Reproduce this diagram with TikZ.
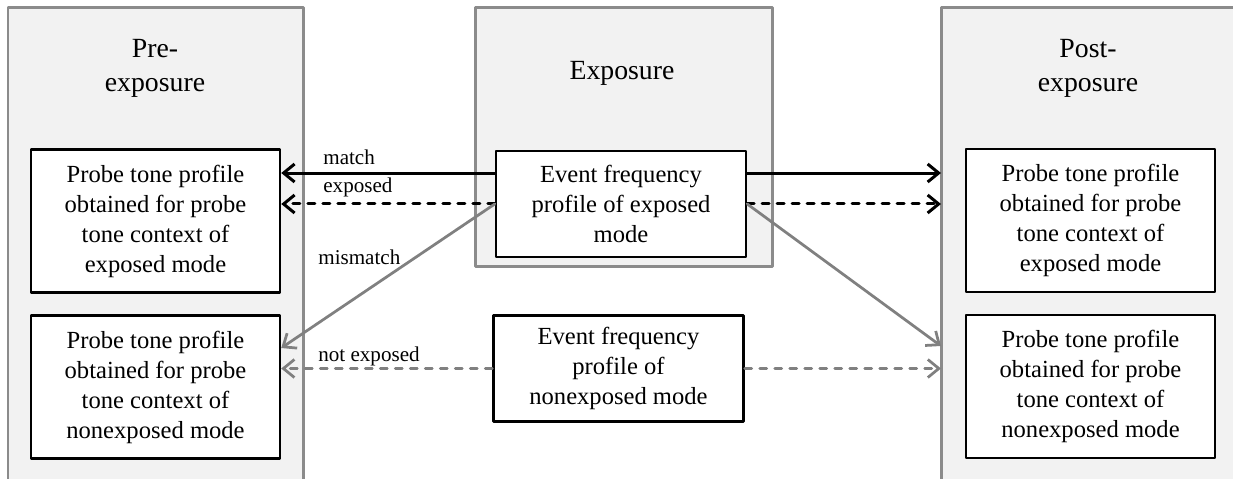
\documentclass[tikz,border=0pt]{standalone}
\usepackage{fontspec}
\setmainfont{Liberation Serif}
\usepackage{xcolor}
\usetikzlibrary{arrows.meta}
\definecolor{sqsqsq}{rgb}{0.949,0.949,0.949}
\definecolor{wvwvwv}{rgb}{0.545,0.545,0.545}
\definecolor{uququq}{rgb}{0.5,0.5,0.5}
\tikzstyle{every node}=[font=\fontsize{14}{17.07}\selectfont]

\begin{document}
\begin{tikzpicture}[line cap=round,line join=round,>={Straight Barb[length=0.22cm,width=0.36cm]},x=0.02cm,y=-0.02cm,
  probe/.style={draw=black,line width=0.05cm,fill=white,align=center,inner sep=0pt,minimum width=4.98cm,minimum height=2.86cm},
  event/.style={probe,minimum width=5cm,minimum height=2.12cm},
  stage/.style={align=center,font=\fontsize{15.8}{19.4}\selectfont},
  tag/.style={anchor=base west,inner sep=0pt,font=\fontsize{12}{14}\selectfont},
  seen/.style={->,line width=0.06cm,color=black},
  unseen/.style={->,line width=0.055cm,color=uququq},
  dashes/.style={dash pattern=on 0.14cm off 0.16cm}]
            \useasboundingbox (0,0) rectangle (1233,479);
            \clip (0,0) rectangle (1233,479);
            % the three stages
            \draw [line width=0.06cm,color=wvwvwv,fill=sqsqsq] (8,8) rectangle (303,520);
            \draw [line width=0.06cm,color=wvwvwv,fill=sqsqsq] (475,8) rectangle (772,267);
            \draw [line width=0.06cm,color=wvwvwv,fill=sqsqsq] (941,8) rectangle (1260,520);
            \node[stage] (pre) at (155,68) {Pre-\\exposure};
            \node[stage] (expo) at (622,73) {Exposure};
            \node[stage] (post) at (1088,68) {Post-\\exposure};
            % profiles
            \node[probe] (pre1) at (155.5,221) {Probe tone profile\\obtained for probe\\tone context of\\exposed mode};
            \node[probe] (pre2) at (155.5,387) {Probe tone profile\\obtained for probe\\tone context of\\nonexposed mode};
            \node[probe] (post1) at (1090.5,220.5) {Probe tone profile\\obtained for probe\\tone context of\\exposed mode};
            \node[probe] (post2) at (1090.5,386.5) {Probe tone profile\\obtained for probe\\tone context of\\nonexposed mode};
            \node[event] (ex) at (621,204) {Event frequency\\profile of exposed\\mode};
            \node[event] (nonex) at (618.5,368.5) {Event frequency\\profile of\\nonexposed mode};
            \coordinate (postedge) at (941,0);
            \coordinate (exl) at ([yshift=0.62cm]ex.west);
            \coordinate (exr) at ([yshift=0.62cm]ex.east);
            \coordinate (pre2up) at ([yshift=0.78cm]pre2.east);
            \coordinate (post2up) at ([yshift=0.82cm]pre2.east -| postedge);
            % arrows
            \draw [seen] (exl) -- (exl -| pre1.east);
            \draw [seen,dashes] (ex.west) -- (ex.west -| pre1.east);
            \draw [seen] (exr) -- (exr -| postedge);
            \draw [seen,dashes] (ex.east) -- (ex.east -| postedge);
            \draw [unseen] (ex.west) -- (pre2up);
            \draw [unseen] (ex.east) -- (post2up);
            \draw [unseen,dashes] (nonex.west) -- (nonex.west -| pre2.east);
            \draw [unseen,dashes] (nonex.east) -- (nonex.east -| postedge);
            \node[tag] (lmatch) at (323,165) {match};
            \node[tag] (lexp) at (323,193) {exposed};
            \node[tag] (lmis) at (318,265) {mismatch};
            \node[tag] (lnot) at (318,361) {not exposed};
\end{tikzpicture}
\end{document}
